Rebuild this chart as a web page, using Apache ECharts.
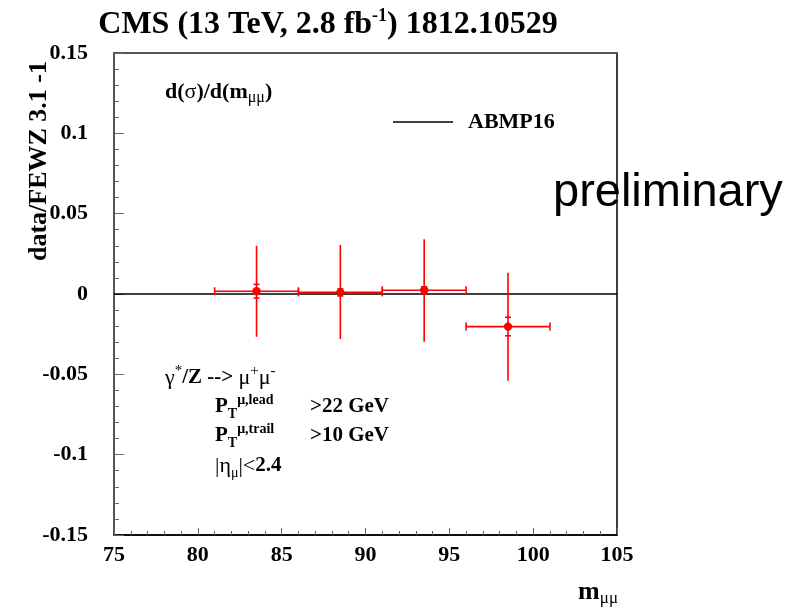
<!DOCTYPE html>
<html>
<head>
<meta charset="utf-8">
<script src="https://cdn.jsdelivr.net/npm/echarts@6/dist/echarts.min.js"></script>
<style>html,body{margin:0;padding:0;background:#fff}#c{width:804px;height:612px}</style>
</head>
<body>
<div id="c"></div>
<script>
// ---- data ----
const binCenters = [83.5, 88.5, 93.5, 98.5];
const binLow     = [81, 86, 91, 96];
const binHigh    = [86, 91, 96, 101];
const ratioMinusOne = [0.0017, 0.0010, 0.0023, -0.0203];
const totErrUp   = [0.0283, 0.0295, 0.0317, 0.0336];
const totErrDown = [0.0283, 0.0290, 0.0320, 0.0337];
const statErrUp  = [0.0043, 0.0022, 0.0022, 0.0058];
const statErrDown= [0.0042, 0.0022, 0.0022, 0.0057];
const abmpX = [75, 105];
const abmpY = [0, 0];
const xTicks = [75, 80, 85, 90, 95, 100, 105];
const yTicks = [-0.15, -0.1, -0.05, 0, 0.05, 0.1, 0.15];

const SERIF = 'Liberation Serif';
const dataRows = binCenters.map((x, i) => [x, ratioMinusOne[i], binLow[i], binHigh[i], totErrUp[i], totErrDown[i], statErrUp[i], statErrDown[i]]);
const abmpRows = abmpX.map((x, i) => [x, abmpY[i]]);

const RED = '#ff0000';
function renderErr(params, api) {
  const x = api.value(0), y = api.value(1);
  const c = api.coord([x, y]);
  const l = api.coord([api.value(2), y]);
  const r = api.coord([api.value(3), y]);
  const t = api.coord([x, y + api.value(4)]);
  const b = api.coord([x, y - api.value(5)]);
  const st = api.coord([x, y + api.value(6)]);
  const sb = api.coord([x, y - api.value(7)]);
  const ls = {stroke: RED, lineWidth: 1.6};
  const cap = 4, scap = 3;
  return {
    type: 'group',
    children: [
      {type: 'line', shape: {x1: l[0], y1: l[1], x2: r[0], y2: r[1]}, style: ls},
      {type: 'line', shape: {x1: l[0], y1: l[1] - cap, x2: l[0], y2: l[1] + cap}, style: ls},
      {type: 'line', shape: {x1: r[0], y1: r[1] - cap, x2: r[0], y2: r[1] + cap}, style: ls},
      {type: 'line', shape: {x1: t[0], y1: t[1], x2: b[0], y2: b[1]}, style: ls},
      {type: 'line', shape: {x1: st[0] - scap, y1: st[1], x2: st[0] + scap, y2: st[1]}, style: ls},
      {type: 'line', shape: {x1: sb[0] - scap, y1: sb[1], x2: sb[0] + scap, y2: sb[1]}, style: ls},
      {type: 'circle', shape: {cx: c[0], cy: c[1], r: 4.2}, style: {fill: RED}}
    ]
  };
}

const chart = echarts.init(document.getElementById('c'), null, {renderer: 'canvas'});
const big = {fontFamily: SERIF, fontWeight: 'bold', fontSize: 21, fill: '#000', lineHeight: 28};
const gre = {fontFamily: SERIF, fontWeight: 'normal', fontSize: 22, fill: '#000', lineHeight: 28};
const sup = {fontFamily: SERIF, fontWeight: 'bold', fontSize: 14, fill: '#000', verticalAlign: 'top', lineHeight: 14};
const supn = {fontFamily: SERIF, fontWeight: 'normal', fontSize: 15, fill: '#000', verticalAlign: 'top', lineHeight: 15};
const sub = {fontFamily: SERIF, fontWeight: 'bold', fontSize: 14, fill: '#000', verticalAlign: 'bottom', lineHeight: 14};
const subn = {fontFamily: SERIF, fontWeight: 'normal', fontSize: 14, fill: '#000', verticalAlign: 'bottom', lineHeight: 14};

chart.setOption({
  animation: false,
  backgroundColor: '#fff',
  grid: {left: 114, top: 53, right: 187, bottom: 77, show: true, borderColor: '#000', borderWidth: 1.5, backgroundColor: 'transparent'},
  legend: {
    data: [{name: 'ABMP16', icon: 'rect'}],
    left: 388, top: 106, itemWidth: 60, itemHeight: 1.5,
    textStyle: {fontFamily: SERIF, fontWeight: 'bold', fontSize: 22, color: '#000', padding: [0, 0, 0, 10]}
  },
  xAxis: [{
    type: 'value', min: xTicks[0], max: xTicks[xTicks.length - 1], interval: 5,
    axisLine: {show: true, onZero: false, lineStyle: {color: '#000', width: 1.5}},
    axisTick: {show: true, inside: true, length: 7, lineStyle: {color: '#666'}},
    minorTick: {show: true, splitNumber: 5, length: 4, lineStyle: {color: '#666'}},
    splitLine: {show: false},
    axisLabel: {fontFamily: SERIF, fontWeight: 'bold', fontSize: 22, color: '#000', margin: 9}
  }, {
    type: 'value', position: 'top', min: 75, max: 105,
    axisLine: {show: true, onZero: false, lineStyle: {color: '#555', width: 2}},
    axisTick: {show: false}, minorTick: {show: false}, axisLabel: {show: false}, splitLine: {show: false}
  }],
  yAxis: [{
    type: 'value', min: yTicks[0], max: yTicks[yTicks.length - 1], interval: 0.05,
    axisLine: {show: true, onZero: false, lineStyle: {color: '#555', width: 2}},
    axisTick: {show: true, inside: true, length: 10, lineStyle: {color: '#666'}},
    minorTick: {show: true, splitNumber: 5, length: 5, lineStyle: {color: '#666'}},
    splitLine: {show: false},
    axisLabel: {fontFamily: SERIF, fontWeight: 'bold', fontSize: 22, color: '#000', margin: 26,
      formatter: v => String(Math.round(v * 100) / 100)}
  }],
  series: [{
    name: 'ABMP16', type: 'line', data: abmpRows, symbol: 'none', color: '#000',
    lineStyle: {color: '#000', width: 1.5}, z: 2
  }, {
    name: 'data', type: 'custom', data: dataRows, renderItem: renderErr, z: 3,
    encode: {x: 0, y: 1}
  }],
  graphic: [
    {type: 'text', x: 328, y: 25, style: {
      text: '{t|CMS (13 TeV, 2.8 fb}{s|-1}{t|) 1812.10529}', align: 'center', verticalAlign: 'middle',
      rich: {t: {fontFamily: SERIF, fontWeight: 'bold', fontSize: 32, fill: '#000', lineHeight: 36},
             s: {fontFamily: SERIF, fontWeight: 'bold', fontSize: 18, fill: '#000', verticalAlign: 'top', lineHeight: 18}}
    }},
    {type: 'text', x: 39, y: 161, rotation: Math.PI / 2, style: {
      text: 'data/FEWZ 3.1 -1', align: 'center', verticalAlign: 'middle',
      font: 'bold 26px "Liberation Serif"', fill: '#000'}},
    {type: 'text', x: 165, y: 92, style: {
      text: '{a|d(}{g|σ}{a|)/d(m}{b|μμ}{a|)}', verticalAlign: 'middle',
      rich: {a: Object.assign({}, big, {fontSize: 22, lineHeight: 27}), g: Object.assign({}, gre, {fontSize: 22, lineHeight: 27}),
             b: Object.assign({}, subn, {fontSize: 16, lineHeight: 16})}}},
    {type: 'text', x: 553, y: 193, z: 1, style: {
      text: 'preliminary', verticalAlign: 'middle', font: '47px "Liberation Sans"', fill: '#000'}},
    {type: 'text', x: 165, y: 378, style: {
      text: '{g|γ}{sn|*}{a|/Z --> }{g|μ}{sn|+}{g|μ}{sn|-}', verticalAlign: 'middle',
      rich: {a: big, g: gre, sn: supn}}},
    {type: 'text', x: 215, y: 407, style: {
      text: '{a|P}{b|T}{s|μ,lead}', verticalAlign: 'middle', rich: {a: big, b: sub, s: sup}}},
    {type: 'text', x: 310, y: 407, style: {
      text: '>22 GeV', verticalAlign: 'middle', font: 'bold 21px "Liberation Serif"', fill: '#000'}},
    {type: 'text', x: 215, y: 436, style: {
      text: '{a|P}{b|T}{s|μ,trail}', verticalAlign: 'middle', rich: {a: big, b: sub, s: sup}}},
    {type: 'text', x: 310, y: 436, style: {
      text: '>10 GeV', verticalAlign: 'middle', font: 'bold 21px "Liberation Serif"', fill: '#000'}},
    {type: 'text', x: 215, y: 466, style: {
      text: '{g|\u007Cη}{b|μ}{g|\u007C<}{a|2.4}', verticalAlign: 'middle', rich: {a: big, g: gre, b: subn}}},
    {type: 'text', x: 618, y: 592, style: {
      text: '{a|m}{b|μμ}', align: 'right', verticalAlign: 'middle',
      rich: {a: Object.assign({}, big, {fontSize: 26, lineHeight: 30}), b: Object.assign({}, subn, {fontSize: 17, lineHeight: 17})}}}
  ]
});
</script>
</body>
</html>
